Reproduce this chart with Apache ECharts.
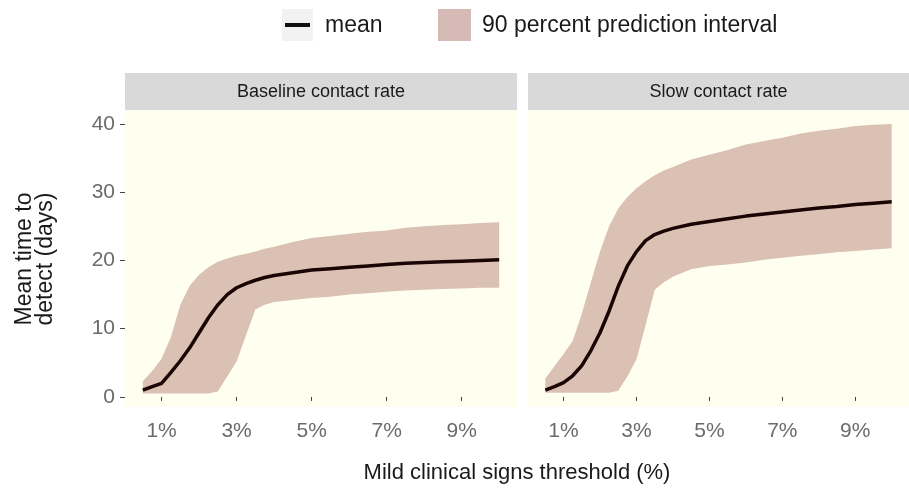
<!DOCTYPE html>
<html>
<head>
<meta charset="utf-8">
<script src="https://cdn.jsdelivr.net/npm/echarts@6/dist/echarts.min.js"></script>
<style>
  html, body { margin: 0; padding: 0; background: #fff; }
  #chart { width: 909px; height: 495px; }
</style>
</head>
<body>
<div id="chart"></div>
<script>
// threshold (%) values along the x axis
var thresholds = [0.5, 0.75, 1, 1.25, 1.5, 1.75, 2, 2.25, 2.5, 2.75, 3, 3.25, 3.5, 3.75, 4, 4.5, 5, 5.5, 6, 6.5, 7, 7.5, 8, 8.5, 9, 9.5, 10];

// Baseline contact rate
var baseMean  = [1.0, 1.5, 2.0, 3.6, 5.3, 7.2, 9.4, 11.6, 13.5, 15.0, 16.0, 16.6, 17.1, 17.5, 17.8, 18.2, 18.6, 18.8, 19.0, 19.2, 19.4, 19.6, 19.7, 19.8, 19.9, 20.0, 20.1];
var baseUpper = [2.3, 3.8, 5.6, 8.8, 13.5, 16.3, 17.9, 19.0, 19.8, 20.3, 20.7, 21.0, 21.3, 21.7, 22.0, 22.7, 23.3, 23.6, 23.9, 24.2, 24.4, 24.8, 25.0, 25.2, 25.3, 25.5, 25.6];
var baseLower = [0.5, 0.5, 0.5, 0.5, 0.5, 0.5, 0.5, 0.5, 0.8, 3.0, 5.2, 9.0, 12.8, 13.5, 13.9, 14.2, 14.5, 14.7, 15.0, 15.2, 15.4, 15.6, 15.7, 15.8, 15.9, 16.0, 16.0];

// Slow contact rate
var slowMean  = [1.0, 1.5, 2.1, 3.1, 4.6, 6.8, 9.4, 12.6, 16.2, 19.2, 21.3, 22.9, 23.8, 24.3, 24.7, 25.3, 25.7, 26.1, 26.5, 26.8, 27.1, 27.4, 27.7, 27.9, 28.2, 28.4, 28.6];
var slowUpper = [2.7, 4.5, 6.3, 8.2, 12.2, 16.8, 21.3, 25.0, 27.6, 29.3, 30.6, 31.6, 32.5, 33.2, 33.7, 34.8, 35.5, 36.2, 37.0, 37.5, 38.0, 38.6, 39.0, 39.3, 39.7, 39.9, 40.0];
var slowLower = [0.6, 0.6, 0.6, 0.6, 0.6, 0.6, 0.6, 0.6, 0.9, 3.0, 5.5, 10.5, 15.7, 16.8, 17.6, 18.7, 19.2, 19.4, 19.7, 20.1, 20.4, 20.7, 20.9, 21.2, 21.4, 21.6, 21.8];

var xTicks = [1, 3, 5, 7, 9];
var yTicks = [0, 10, 20, 30, 40];
var panelTitles = ['Baseline contact rate', 'Slow contact rate'];

var FONT = '"Liberation Sans", Arial, sans-serif';
var BAND = '#dbc1b3';
var LINE = '#1a0505';

function pairs(vals) {
    return thresholds.map(function (x, i) { return [x, vals[i]]; });
}

// ribbon between lower and upper, drawn through the axis scales
function bandRenderer(upper, lower) {
    return function (params, api) {
        var pts = [];
        thresholds.forEach(function (x, i) { pts.push(api.coord([x, upper[i]])); });
        for (var i = thresholds.length - 1; i >= 0; i--) {
            pts.push(api.coord([thresholds[i], lower[i]]));
        }
        return { type: 'polygon', shape: { points: pts }, style: { fill: BAND } };
    };
}

var panels = [
    { left: 125, width: 392, mean: baseMean, upper: baseUpper, lower: baseLower },
    { left: 528, width: 381, mean: slowMean, upper: slowUpper, lower: slowLower }
];

var grids = [], xAxes = [], yAxes = [], series = [], graphics = [];

panels.forEach(function (p, k) {
    grids.push({
        left: p.left, width: p.width, top: 110, height: 297,
        show: true, backgroundColor: '#fffff0', borderWidth: 0
    });
    xAxes.push({
        type: 'value', gridIndex: k, min: 0.025, max: 10.475,
        axisLine: { show: false },
        splitLine: { show: false },
        axisTick: { show: true, customValues: xTicks, length: 4, lineStyle: { color: '#444', width: 1 } },
        axisLabel: {
            customValues: xTicks, formatter: '{value}%', margin: 14,
            color: '#6b6b6b', fontSize: 21, fontFamily: FONT
        }
    });
    yAxes.push({
        type: 'value', gridIndex: k, min: -1.475, max: 42.05,
        axisLine: { show: false },
        splitLine: { show: false },
        axisTick: { show: k === 0, customValues: yTicks, length: 5, lineStyle: { color: '#444', width: 1 } },
        axisLabel: {
            show: k === 0, customValues: yTicks, margin: 10,
            color: '#6b6b6b', fontSize: 21, fontFamily: FONT
        }
    });
    series.push({
        name: '90 percent prediction interval',
        type: 'custom', xAxisIndex: k, yAxisIndex: k, silent: true,
        data: [[p.left]],
        renderItem: bandRenderer(p.upper, p.lower)
    });
    series.push({
        name: 'mean',
        type: 'line', xAxisIndex: k, yAxisIndex: k,
        data: pairs(p.mean), symbol: 'none', silent: true,
        lineStyle: { color: LINE, width: 3.5 }
    });

    // facet strip
    graphics.push({
        type: 'rect', left: p.left, top: 73,
        shape: { width: p.width, height: 37 },
        style: { fill: '#d9d9d9' }
    });
    graphics.push({
        type: 'text', x: p.left + p.width / 2, y: 92,
        style: {
            text: panelTitles[k], fill: '#1a1a1a', font: '18px ' + FONT,
            textAlign: 'center', textVerticalAlign: 'middle'
        }
    });
});

// legend
graphics.push(
    { type: 'rect', left: 282, top: 9, shape: { width: 31, height: 32 }, style: { fill: '#f2f2f2' } },
    { type: 'rect', left: 285, top: 23, shape: { width: 25, height: 4 }, style: { fill: '#111' } },
    { type: 'text', x: 325, y: 26, style: { text: 'mean', fill: '#1a1a1a', font: '23px ' + FONT, textVerticalAlign: 'middle' } },
    { type: 'rect', left: 438, top: 9, shape: { width: 33, height: 32 }, style: { fill: '#d6bab5' } },
    { type: 'text', x: 482, y: 26, style: { text: '90 percent prediction interval', fill: '#1a1a1a', font: '23px ' + FONT, textVerticalAlign: 'middle' } }
);

// axis titles
graphics.push(
    { type: 'text', x: 517, y: 473, style: { text: 'Mild clinical signs threshold (%)', fill: '#1a1a1a', font: '22px ' + FONT, textAlign: 'center', textVerticalAlign: 'middle' } },
    { type: 'text', x: 35, y: 259, rotation: Math.PI / 2, style: { text: 'Mean time to\ndetect (days)', fill: '#1a1a1a', font: '23px ' + FONT, textAlign: 'center', textVerticalAlign: 'middle', lineHeight: 21 } }
);

var myChart = echarts.init(document.getElementById('chart'));
myChart.setOption({
    animation: false,
    backgroundColor: '#ffffff',
    grid: grids,
    xAxis: xAxes,
    yAxis: yAxes,
    series: series,
    graphic: graphics
});
</script>
</body>
</html>
